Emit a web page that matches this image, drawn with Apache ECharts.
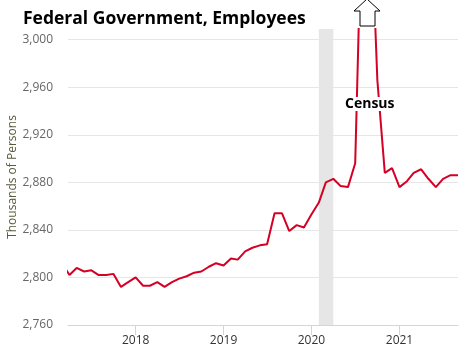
<!DOCTYPE html>
<html>
<head>
<meta charset="utf-8">
<script src="https://cdn.jsdelivr.net/npm/echarts@6/dist/echarts.min.js"></script>
<style>
    html, body { margin: 0; padding: 0; background: #fff; }
    #chart { width: 467px; height: 353px; }
</style>
</head>
<body>
<div id="chart"></div>
<script>
// monthly values, thousands of persons
var months = [
    '2017-03', '2017-04', '2017-05', '2017-06', '2017-07', '2017-08', '2017-09', '2017-10', '2017-11', '2017-12',
    '2018-01', '2018-02', '2018-03', '2018-04', '2018-05', '2018-06', '2018-07', '2018-08', '2018-09', '2018-10', '2018-11', '2018-12',
    '2019-01', '2019-02', '2019-03', '2019-04', '2019-05', '2019-06', '2019-07', '2019-08', '2019-09', '2019-10', '2019-11', '2019-12',
    '2020-01', '2020-02', '2020-03', '2020-04', '2020-05', '2020-06', '2020-07', '2020-08', '2020-09', '2020-10', '2020-11', '2020-12',
    '2021-01', '2021-02', '2021-03', '2021-04', '2021-05', '2021-06', '2021-07', '2021-08', '2021-09'
];
var employees = [
    2812, 2802, 2808, 2805, 2806, 2802, 2802, 2803, 2792, 2796,
    2800, 2793, 2793, 2796, 2792, 2796, 2799, 2801, 2804, 2805, 2809, 2812,
    2810, 2816, 2815, 2822, 2825, 2827, 2828, 2854, 2854, 2839, 2844, 2842,
    2853, 2863, 2880, 2883, 2877, 2876, 2896, 3140, 3125, 2966, 2888, 2892,
    2876, 2881, 2888, 2891, 2883, 2876, 2883, 2886, 2886
];
var yearTicks = ['2018-01-01', '2019-01-01', '2020-01-01', '2021-01-01'];
var recession = ['2020-02-01', '2020-04-01'];

function ts(d) {
    return Date.parse(d + 'T00:00:00Z');
}

var chart = echarts.init(document.getElementById('chart'));

var seriesData = months.map(function (m, i) {
    return [ts(m + '-01'), employees[i]];
});
var yearValues = yearTicks.map(ts);

var option = {
    animation: false,
    textStyle: { fontFamily: 'Open Sans' },
    title: {
        text: 'Federal Government, Employees',
        left: 18,
        top: 5,
        textStyle: { fontSize: 17.5, fontWeight: 'bold', color: '#000', fontFamily: 'Open Sans' }
    },
    grid: { left: 68, right: 9, top: 29, bottom: 28, outerBoundsMode: 'none' },
    xAxis: {
        type: 'value',
        min: ts('2017-03-26'),
        max: ts('2021-09-01'),
        axisLine: { lineStyle: { color: '#ccd6eb' } },
        axisTick: { show: true, length: 10, lineStyle: { color: '#ccd6eb' }, customValues: yearValues },
        axisLabel: {
            color: '#333',
            fontSize: 12,
            margin: 10,
            customValues: yearValues,
            formatter: function (v) { return new Date(v).getUTCFullYear() + ''; }
        },
        splitLine: { show: false }
    },
    yAxis: {
        type: 'value',
        min: 2760,
        max: 3009,
        interval: 40,
        name: 'Thousands of Persons',
        nameLocation: 'middle',
        nameGap: 49,
        nameMoveOverlap: false,
        nameTextStyle: { color: '#5a5a3c', fontSize: 12 },
        axisLine: { show: false },
        axisTick: { show: false },
        axisLabel: {
            color: '#666',
            fontSize: 12,
            margin: 15,
            showMaxLabel: false,
            formatter: function (v) { return v.toLocaleString('en-US'); }
        },
        splitLine: { showMaxLine: false, lineStyle: { color: '#e6e6e6' } }
    },
    graphic: [
        {
            type: 'polygon',
            shape: { points: [[354, 11], [367, -1], [380, 11], [375, 11], [375, 26], [360, 26], [360, 11]] },
            style: { fill: '#fff', stroke: '#000', lineWidth: 1 },
            z: 10
        },
        {
            type: 'text',
            left: 344,
            top: 97,
            style: {
                text: 'Census',
                font: 'bold 14px "Open Sans"',
                fill: '#000',
                backgroundColor: '#fff',
                padding: [0, 1]
            },
            z: 10
        }
    ],
    series: [
        {
            type: 'line',
            data: seriesData,
            showSymbol: false,
            lineStyle: { color: '#d40025', width: 2 },
            itemStyle: { color: '#d40025' },
            markArea: {
                silent: true,
                itemStyle: { color: '#e6e6e6' },
                data: [[{ xAxis: ts(recession[0]) }, { xAxis: ts(recession[1]) }]]
            }
        }
    ]
};

chart.setOption(option);
</script>
</body>
</html>
